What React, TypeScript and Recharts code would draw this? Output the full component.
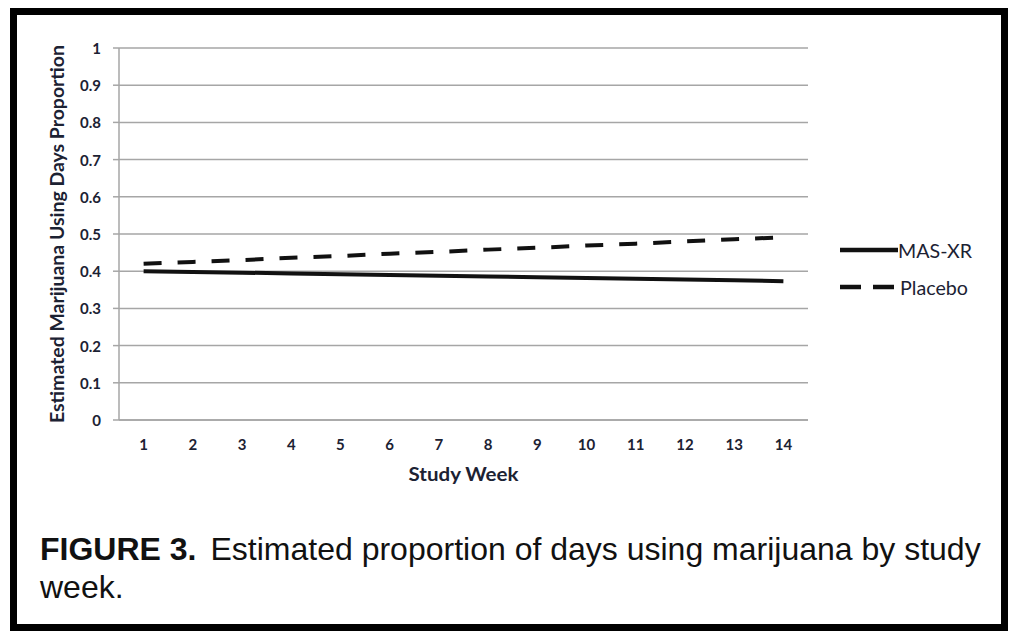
import { LineChart, Line, XAxis, YAxis, CartesianGrid, Legend } from 'recharts'

const weeks = [1, 2, 3, 4, 5, 6, 7, 8, 9, 10, 11, 12, 13, 14]
const masXr = [0.4, 0.398, 0.396, 0.394, 0.392, 0.39, 0.388, 0.386, 0.384, 0.382, 0.38, 0.378, 0.376, 0.373]
const placebo = [0.42, 0.425, 0.43, 0.436, 0.441, 0.447, 0.452, 0.458, 0.463, 0.469, 0.474, 0.48, 0.486, 0.491]
const yTicks = [0, 0.1, 0.2, 0.3, 0.4, 0.5, 0.6, 0.7, 0.8, 0.9, 1]
// category edges, where Excel puts its tick marks
const weekEdges = [0.5, 1.5, 2.5, 3.5, 4.5, 5.5, 6.5, 7.5, 8.5, 9.5, 10.5, 11.5, 12.5, 13.5, 14.5]

const data = weeks.map((w, i) => ({ week: w, mas: masXr[i], placebo: placebo[i] }))

const GRID = '#a6a6a6'
const INK = '#1c2233'
const labelFont = { fontFamily: 'Lato, sans-serif', fontSize: 15, fontWeight: 700, fill: INK }

function fmtY(v: number) {
  if (v === 0) return '0'
  if (v === 1) return '1'
  return v.toFixed(1)
}

function YTick(props: any) {
  const { x, y, payload } = props
  return (
    <text x={x} y={y} textAnchor="end" dominantBaseline="central" style={labelFont}>
      {fmtY(payload.value)}
    </text>
  )
}

function XTick(props: any) {
  const { x, y, payload } = props
  return (
    <text x={x} y={y + 7} textAnchor="middle" dominantBaseline="central" style={labelFont}>
      {payload.value}
    </text>
  )
}

function YTitle(props: any) {
  const { viewBox } = props
  const cx = viewBox.x + 7
  const cy = viewBox.y + viewBox.height / 2
  return (
    <text
      x={cx}
      y={cy}
      transform={`rotate(-90 ${cx} ${cy})`}
      textAnchor="middle"
      dominantBaseline="central"
      textLength={378}
      lengthAdjust="spacingAndGlyphs"
      style={{ fontFamily: 'Lato, sans-serif', fontSize: 19, fontWeight: 700, fill: INK }}
    >
      Estimated Marijuana Using Days Proportion
    </text>
  )
}

function XTitle(props: any) {
  const { viewBox } = props
  const cx = viewBox.x + viewBox.width / 2
  return (
    <text
      x={cx}
      y={viewBox.y + 60}
      textAnchor="middle"
      textLength={110}
      lengthAdjust="spacingAndGlyphs"
      style={{ fontFamily: 'Lato, sans-serif', fontSize: 18, fontWeight: 700, fill: INK }}
    >
      Study Week
    </text>
  )
}

function LegendBox() {
  const txt = { fontFamily: 'Lato, sans-serif', fontSize: 19, fill: INK }
  return (
    <svg width={160} height={60}>
      <line x1={0} y1={12} x2={58} y2={12} stroke="#111" strokeWidth={4.5} />
      <text x={58} y={12} dominantBaseline="central" textLength={74} lengthAdjust="spacingAndGlyphs" style={txt}>
        MAS-XR
      </text>
      <line x1={0} y1={49} x2={56} y2={49} stroke="#111" strokeWidth={4.5} strokeDasharray="21 12" />
      <text x={60} y={49} dominantBaseline="central" textLength={68} lengthAdjust="spacingAndGlyphs" style={txt}>
        Placebo
      </text>
    </svg>
  )
}

const captionFont = {
  fontFamily: '"Liberation Sans", Arial, sans-serif',
  fontSize: 32,
  lineHeight: '38px',
  color: '#111',
  whiteSpace: 'nowrap' as const,
}

export default function App() {
  return (
    <div style={{ position: 'absolute', left: 0, top: 0, width: 1016, height: 635, background: '#fff' }}>
      <div
        style={{
          position: 'absolute',
          left: 10,
          top: 8,
          width: 984,
          height: 609,
          border: '7px solid #000',
        }}
      />
      <div style={{ position: 'absolute', left: 0, top: 0 }}>
        <LineChart
          width={1016}
          height={500}
          data={data}
          margin={{ top: 48, right: 208, left: 49, bottom: 19 }}
        >
          <CartesianGrid vertical={false} stroke={GRID} strokeWidth={1.5} />
          <XAxis
            xAxisId="edge"
            dataKey="week"
            type="number"
            domain={[0.5, 14.5]}
            ticks={weekEdges}
            tick={false}
            height={1}
            tickSize={7}
            stroke={GRID}
            strokeWidth={1.5}
          />
          <XAxis
            xAxisId="w"
            dataKey="week"
            type="number"
            domain={[0.5, 14.5]}
            ticks={weeks}
            interval={0}
            height={60}
            axisLine={false}
            tickLine={false}
            tickSize={0}
            tickMargin={16}
            tick={<XTick />}
            label={<XTitle />}
          />
          <YAxis
            domain={[0, 1]}
            ticks={yTicks}
            width={70}
            stroke={GRID}
            strokeWidth={1.5}
            tickSize={6}
            tickMargin={12}
            tick={<YTick />}
            label={<YTitle />}
          />
          <Legend
            verticalAlign="middle"
            layout="horizontal"
            content={() => <LegendBox />}
            wrapperStyle={{ left: 840, top: 238, width: 160 }}
          />
          <Line
            xAxisId="w"
            dataKey="mas"
            name="MAS-XR"
            stroke="#111"
            strokeWidth={4}
            dot={false}
            isAnimationActive={false}
          />
          <Line
            xAxisId="w"
            dataKey="placebo"
            name="Placebo"
            stroke="#111"
            strokeWidth={4}
            strokeDasharray="18 16"
            dot={false}
            isAnimationActive={false}
          />
        </LineChart>
      </div>
      <div style={{ position: 'absolute', left: 40, top: 530, ...captionFont }}>
        <span style={{ fontWeight: 700 }}>FIGURE 3.</span>
        <span style={{ marginLeft: 14 }}>Estimated proportion of days using marijuana by study</span>
      </div>
      <div style={{ position: 'absolute', left: 40, top: 568, ...captionFont }}>week.</div>
    </div>
  )
}
